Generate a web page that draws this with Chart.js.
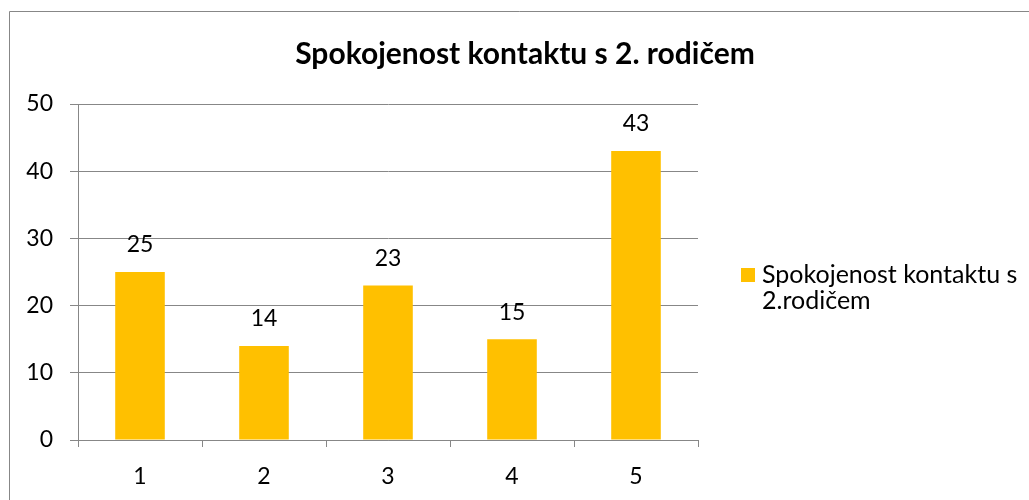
<!DOCTYPE html>
<html>
<head>
<meta charset="utf-8">
<script src="https://cdn.jsdelivr.net/npm/chart.js@4"></script>
<style>
  body { margin: 0; background: #fff; }
  canvas { display: block; }
</style>
</head>
<body>
<canvas id="graf" width="1029" height="500"></canvas>
<script>
// data
const kategorie = ['1', '2', '3', '4', '5'];
const hodnoty = [25, 14, 23, 15, 43];
const nazevRady = 'Spokojenost kontaktu s 2.rodičem';
const nadpis = 'Spokojenost kontaktu s 2. rodičem';

const zluta = '#FFC000';
const seda = '#878787';
const pismo = 'Lato';

// ramecek grafu (jen horni a leva hrana je videt) + nadpis pres celou sirku
const ramecek = {
    id: 'ramecek',
    beforeDraw(chart) {
        const ctx = chart.ctx;
        ctx.save();
        ctx.strokeStyle = seda;
        ctx.lineWidth = 1;
        ctx.beginPath();
        ctx.moveTo(9.5, 500);
        ctx.lineTo(9.5, 11.5);
        ctx.lineTo(1029, 11.5);
        ctx.stroke();
        ctx.font = 'bold 30px ' + pismo;
        ctx.fillStyle = '#000';
        ctx.textAlign = 'center';
        ctx.textBaseline = 'middle';
        ctx.fillText(nadpis, 525, 54);
        ctx.restore();
    }
};

// popisky hodnot nad sloupci
const popisky = {
    id: 'popisky',
    afterDatasetsDraw(chart) {
        const ctx = chart.ctx;
        ctx.save();
        ctx.font = '23px ' + pismo;
        ctx.fillStyle = '#000';
        ctx.textAlign = 'center';
        ctx.textBaseline = 'middle';
        chart.getDatasetMeta(0).data.forEach((bar, i) => {
            ctx.fillText(chart.data.datasets[0].data[i], bar.x, bar.y - 27);
        });
        ctx.restore();
    }
};

// legenda vpravo, text zalomeny na dva radky
const legenda = {
    id: 'legenda',
    afterDraw(chart) {
        const ctx = chart.ctx;
        const ds = chart.data.datasets[0];
        ctx.save();
        ctx.font = '25px ' + pismo;
        const slova = ds.label.split(' ');
        const radky = [];
        let radek = '';
        slova.forEach(s => {
            const zkus = radek ? radek + ' ' + s : s;
            if (ctx.measureText(zkus).width > 262 && radek) {
                radky.push(radek);
                radek = s;
            } else {
                radek = zkus;
            }
        });
        radky.push(radek);
        ctx.fillStyle = ds.backgroundColor;
        ctx.fillRect(741, 268, 14, 14);
        ctx.fillStyle = '#000';
        ctx.textAlign = 'left';
        ctx.textBaseline = 'middle';
        radky.forEach((r, i) => ctx.fillText(r, 762, 275 + i * 26));
        ctx.restore();
    }
};

new Chart(document.getElementById('graf'), {
    type: 'bar',
    data: {
        labels: kategorie,
        datasets: [{
            label: nazevRady,
            data: hodnoty,
            backgroundColor: zluta,
            borderWidth: 0,
            categoryPercentage: 1,
            barPercentage: 0.4
        }]
    },
    options: {
        responsive: false,
        animation: false,
        layout: { padding: { left: 0, right: 331, top: 104, bottom: 0 } },
        plugins: {
            legend: { display: false },
            tooltip: { enabled: false },
            title: { display: false }
        },
        scales: {
            x: {
                grid: { offset: true, drawOnChartArea: false, color: seda, tickLength: 7 },
                border: { color: seda },
                ticks: { color: '#000', font: { family: pismo, size: 23 }, padding: 16 },
                afterFit(scale) { scale.height = 60; }
            },
            y: {
                min: 0,
                max: 50,
                ticks: { stepSize: 10, color: '#000', font: { family: pismo, size: 23 }, padding: 17 },
                grid: { color: seda, tickLength: 8 },
                border: { color: seda },
                afterFit(scale) { scale.width = 78; }
            }
        }
    },
    plugins: [ramecek, popisky, legenda]
});
</script>
</body>
</html>
